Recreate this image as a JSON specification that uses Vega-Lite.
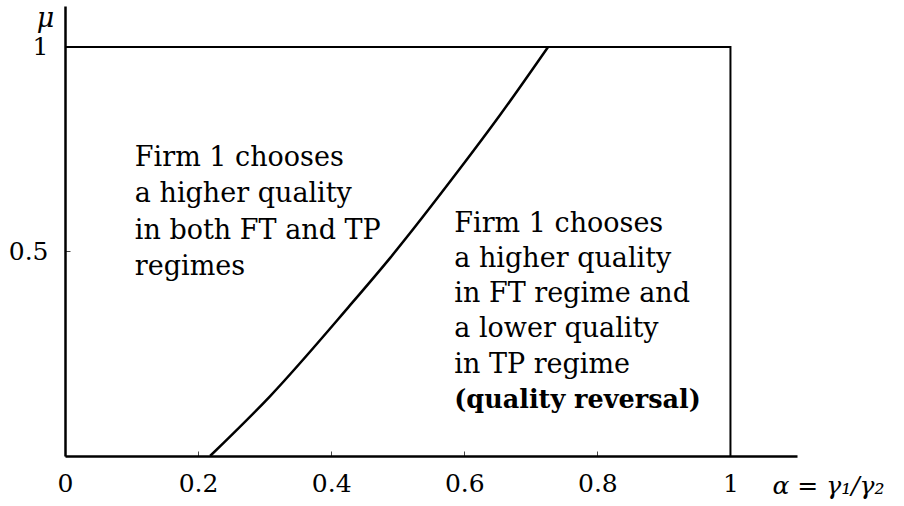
{
  "$schema": "https://vega.github.io/schema/vega-lite/v6.json",
  "width": 732,
  "height": 450,
  "autosize": "none",
  "padding": {"left": 65, "top": 6, "right": 107, "bottom": 50},
  "background": "white",
  "config": {"view": {"stroke": null}, "font": "DejaVu Serif"},
  "datasets": {
    "frame": [{"a": 0, "m": 1, "o": 1}, {"a": 1, "m": 1, "o": 2}, {"a": 1, "m": 0, "o": 3}],
    "curve": [
      {"a": 0.218, "m": 0.0},
      {"a": 0.308, "m": 0.146},
      {"a": 0.426, "m": 0.364},
      {"a": 0.489, "m": 0.485},
      {"a": 0.591, "m": 0.697},
      {"a": 0.654, "m": 0.834},
      {"a": 0.726, "m": 1.0}
    ],
    "leftText": [{"a": 0.105, "m": 0.709, "label": ["Firm 1 chooses", "a higher quality", "in both FT and TP", "regimes"]}],
    "rightText": [{"a": 0.585, "m": 0.548, "label": ["Firm 1 chooses", "a higher quality", "in FT regime and", "a lower quality", "in TP regime"]}],
    "boldText": [{"a": 0.585, "m": 0.117, "label": "(quality reversal)"}]
  },
  "layer": [
    {
      "data": {"name": "frame"},
      "mark": {"type": "line", "color": "black", "strokeWidth": 2},
      "encoding": {
        "x": {
          "field": "a", "type": "quantitative",
          "scale": {"domain": [0, 1.1], "nice": false, "zero": false},
          "axis": {
            "values": [0, 0.2, 0.4, 0.6, 0.8, 1], "format": "~g", "grid": false,
            "domainColor": "black", "domainWidth": 2.5,
            "tickSize": -5, "tickColor": "#444", "tickWidth": 1,
            "labelFontSize": 25, "labelColor": "black", "labelFont": "DejaVu Serif",
            "labelPadding": 20, "labelBaseline": "top", "labelFlush": false,
            "title": "α = γ₁/γ₂", "titleFont": "DejaVu Serif", "titleFontSize": 25,
            "titleFontWeight": "normal", "titleFontStyle": "italic", "titleColor": "black",
            "titleX": 707, "titleY": 29, "titleAlign": "left", "titleBaseline": "middle", "titleAnchor": null
          }
        },
        "y": {
          "field": "m", "type": "quantitative",
          "scale": {"domain": [0, 1.1], "nice": false, "zero": false},
          "axis": {
            "values": [0.5, 1], "format": "~g", "grid": false,
            "domainColor": "black", "domainWidth": 2.5,
            "tickSize": -5, "tickColor": "#444", "tickWidth": 1,
            "labelFontSize": 25, "labelColor": "black", "labelFont": "DejaVu Serif",
            "labelPadding": 22, "labelBaseline": "middle",
            "title": "μ", "titleFont": "DejaVu Serif", "titleFontSize": 27,
            "titleFontWeight": "normal", "titleFontStyle": "italic", "titleColor": "black",
            "titleAngle": 0, "titleX": -20, "titleY": 20, "titleAlign": "center", "titleBaseline": "alphabetic", "titleAnchor": null
          }
        },
        "order": {"field": "o", "type": "quantitative"}
      }
    },
    {
      "data": {"name": "curve"},
      "mark": {"type": "line", "color": "black", "strokeWidth": 2.5, "interpolate": "monotone"},
      "encoding": {
        "x": {"field": "a", "type": "quantitative"},
        "y": {"field": "m", "type": "quantitative"}
      }
    },
    {
      "data": {"name": "leftText"},
      "mark": {"type": "text", "align": "left", "baseline": "alphabetic", "fontSize": 27, "lineHeight": 36.3, "font": "DejaVu Serif", "color": "black"},
      "encoding": {
        "x": {"field": "a", "type": "quantitative"},
        "y": {"field": "m", "type": "quantitative"},
        "text": {"field": "label", "type": "nominal"}
      }
    },
    {
      "data": {"name": "rightText"},
      "mark": {"type": "text", "align": "left", "baseline": "alphabetic", "fontSize": 27, "lineHeight": 35.2, "font": "DejaVu Serif", "color": "black"},
      "encoding": {
        "x": {"field": "a", "type": "quantitative"},
        "y": {"field": "m", "type": "quantitative"},
        "text": {"field": "label", "type": "nominal"}
      }
    },
    {
      "data": {"name": "boldText"},
      "mark": {"type": "text", "align": "left", "baseline": "alphabetic", "fontSize": 25.5, "fontWeight": "bold", "font": "DejaVu Serif", "color": "black"},
      "encoding": {
        "x": {"field": "a", "type": "quantitative"},
        "y": {"field": "m", "type": "quantitative"},
        "text": {"field": "label", "type": "nominal"}
      }
    }
  ]
}
